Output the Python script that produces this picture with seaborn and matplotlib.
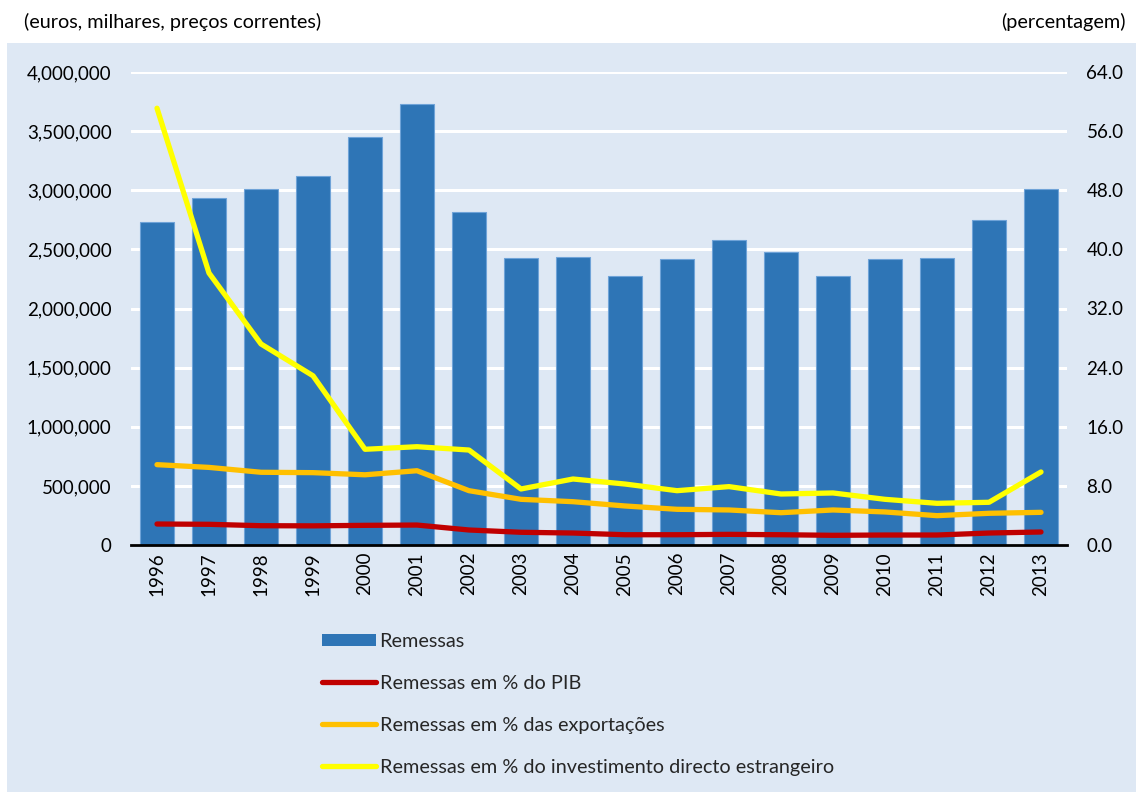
import matplotlib
matplotlib.use("Agg")
import matplotlib.pyplot as plt
import seaborn as sns
import pandas as pd
from matplotlib.patches import Rectangle, Patch
from matplotlib.lines import Line2D
from matplotlib.ticker import FuncFormatter

years = ["1996", "1997", "1998", "1999", "2000", "2001", "2002", "2003", "2004",
         "2005", "2006", "2007", "2008", "2009", "2010", "2011", "2012", "2013"]
remessas = [2734000, 2932000, 3013000, 3118000, 3453000, 3732000, 2813000, 2430000,
            2438000, 2275000, 2419000, 2579000, 2477000, 2277000, 2420000, 2427000,
            2746000, 3008000]
pct_pib = [2.84, 2.80, 2.61, 2.59, 2.66, 2.70, 2.03, 1.72, 1.62, 1.39, 1.39, 1.44,
           1.39, 1.31, 1.35, 1.35, 1.62, 1.76]
pct_export = [10.87, 10.50, 9.84, 9.79, 9.50, 10.05, 7.35, 6.18, 5.86, 5.28, 4.83,
              4.74, 4.37, 4.74, 4.47, 3.97, 4.29, 4.42]
pct_ide = [59.1, 36.8, 27.2, 22.9, 12.95, 13.3, 12.85, 7.58, 8.93, 8.25, 7.35, 7.9,
           6.9, 7.04, 6.18, 5.64, 5.78, 9.88]

labels = ["Remessas", "Remessas em % do PIB", "Remessas em % das exportações",
          "Remessas em % do investimento directo estrangeiro"]
left_title = "(euros, milhares, preços correntes)"
right_title = "(percentagem)"

BAR = "#2E75B6"
RED = "#C00000"
ORANGE = "#FFC000"
YELLOW = "#FFFF00"
BG = "#DEE8F4"

sns.set_theme(style="white")
plt.rcParams["font.family"] = ["Lato", "DejaVu Sans"]
FS = 13.5
FS_TXT = 14.3

df = pd.DataFrame({"ano": years, "remessas": remessas, "pib": pct_pib,
                   "exp": pct_export, "ide": pct_ide})

W, H = 1136, 792
fig = plt.figure(figsize=(W / 100, H / 100), dpi=100)
fig.patch.set_facecolor("white")
fig.patches.append(Rectangle((7 / W, 0), 1 - 7 / W, 1 - 43 / H,
                             transform=fig.transFigure, facecolor=BG,
                             edgecolor="none", zorder=-10))

ax = fig.add_axes([131 / W, 1 - 545 / H, (1067 - 131) / W, (545 - 72) / H])
ax.set_facecolor("none")
sns.barplot(data=df, x="ano", y="remessas", ax=ax, color=BAR, saturation=1,
            width=0.66, edgecolor="#6FA3D8", linewidth=0.8, errorbar=None)
ax.set_ylim(0, 4000000)
ax.set_yticks(range(0, 4000001, 500000))
ax.yaxis.set_major_formatter(FuncFormatter(lambda v, p: f"{v:,.0f}"))
ax.yaxis.grid(True, color="white", linewidth=2.2)
ax.xaxis.grid(False)
ax.set_axisbelow(True)
for s in ["top", "right", "left"]:
    ax.spines[s].set_visible(False)
ax.spines["bottom"].set_color("black")
ax.spines["bottom"].set_linewidth(2)
ax.set_xlabel("")
ax.set_ylabel("")
ax.tick_params(axis="y", length=0, pad=14, labelsize=FS, labelcolor="black")
ax.tick_params(axis="x", length=0, pad=5, labelsize=FS, labelcolor="black",
               labelrotation=90)

ax2 = ax.twinx()
ax2.set_facecolor("none")
for col, c in [("pib", RED), ("exp", ORANGE), ("ide", YELLOW)]:
    sns.pointplot(data=df, x="ano", y=col, ax=ax2, color=c, markers="",
                  errorbar=None, linewidth=3.8, markersize=0,
                  solid_capstyle="round", solid_joinstyle="round")
ax2.set_ylim(0, 64)
ax2.set_yticks([0, 8, 16, 24, 32, 40, 48, 56, 64])
ax2.yaxis.set_major_formatter(FuncFormatter(lambda v, p: f"{v:.1f}"))
ax2.grid(False)
for s in ax2.spines.values():
    s.set_visible(False)
ax2.set_ylabel("")
ax2.set_xlabel("")
ax2.tick_params(axis="y", length=0, pad=14, labelsize=FS, labelcolor="black")
ax.set_xlim(-0.5, len(years) - 0.5)
ax.tick_params(axis="x", labelrotation=90)

fig.text(24 / W, 1 - 22 / H, left_title, ha="left", va="center", fontsize=FS_TXT,
         color="black")
fig.text(1126 / W, 1 - 22 / H, right_title, ha="right", va="center", fontsize=FS_TXT,
         color="black")

handles = [Patch(facecolor=BAR, edgecolor="none"),
           Line2D([], [], color=RED, linewidth=3.8, solid_capstyle="round"),
           Line2D([], [], color=ORANGE, linewidth=3.8, solid_capstyle="round"),
           Line2D([], [], color=YELLOW, linewidth=3.8, solid_capstyle="round")]
fig.legend(handles, labels, loc="upper left", bbox_to_anchor=(322 / W, 1 - 633 / H),
           frameon=False, fontsize=FS_TXT, handlelength=2.7, handletextpad=0.2,
           labelspacing=1.26, borderaxespad=0, borderpad=0, handleheight=0.62)

fig.savefig("out.png", dpi=100)
